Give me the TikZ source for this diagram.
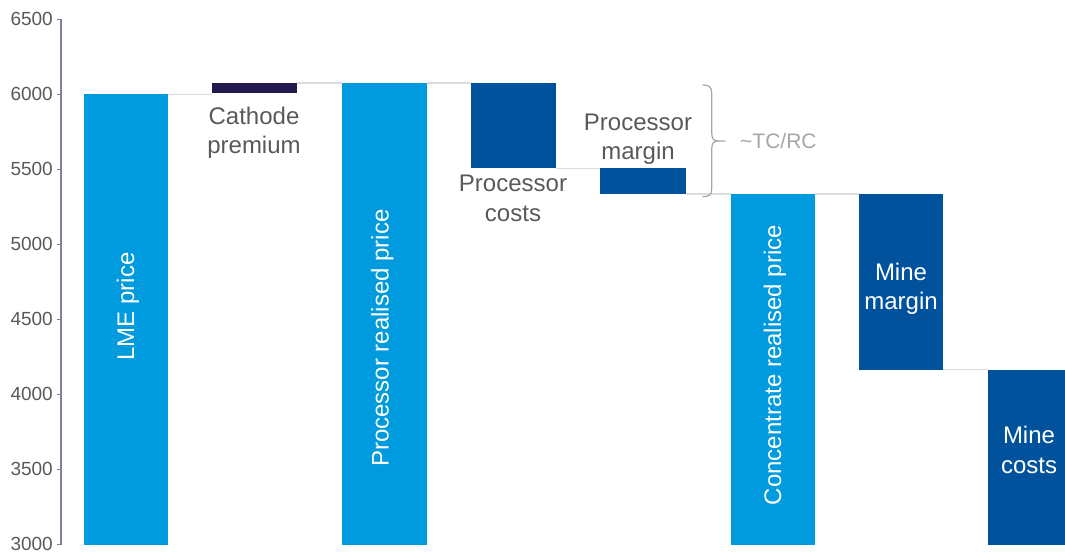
\documentclass[tikz,border=0pt]{standalone}
\usepackage{fontspec}
\setmainfont{Liberation Sans}
\usetikzlibrary{fit}

\definecolor{lightblue}{HTML}{009ADE}
\definecolor{darkblue}{HTML}{00529C}
\definecolor{navy}{HTML}{211A4C}
\definecolor{textgray}{HTML}{595959}
\definecolor{linegray}{HTML}{DCDCDC}
\definecolor{bracegray}{HTML}{A6A6A6}
\definecolor{axiscol}{HTML}{857EA0}

\tikzset{
  bar/.style={inner sep=0pt, outer sep=0pt, draw=none},
  conn/.style={draw=linegray, line width=1.4pt},
  inlabel/.style={text=white, inner sep=0pt, font=\fontsize{24}{29.5}\selectfont, align=center},
  outlabel/.style={text=textgray, inner sep=0pt, font=\fontsize{24}{29.5}\selectfont, align=center},
  ticklabel/.style={text=textgray, inner sep=0pt, font=\fontsize{19}{22}\selectfont},
}

\begin{document}
\begin{tikzpicture}[x=1pt, y=-1pt]
\useasboundingbox (0,0) rectangle (1065,553);

% value axis: 3000 at y=544.5, 0.15 px per unit
\coordinate (axtop) at (61,19.5);
\coordinate (axbot) at (61,544.5);
\draw[axiscol, line width=1.3pt] (axtop) -- (axbot);
\foreach \v in {3000,3500,...,6500} {
  \pgfmathsetmacro{\yy}{544.5-(\v-3000)*0.15}
  \coordinate (tk\v) at (61,\yy);
  \draw[axiscol, line width=1.3pt] (tk\v) -- ++(-4,0);
  \node[ticklabel, anchor=east] (tl\v) at (53,\yy-0.7) {\v};
}

% waterfall bars
\node[bar, fill=lightblue, fit={(84,94.5) (168,544.5)}] (lme) {};
\node[bar, fill=navy, fit={(212,83) (297,93.5)}] (cath) {};
\node[bar, fill=lightblue, fit={(342,83) (427,544.5)}] (prp) {};
\node[bar, fill=darkblue, fit={(471,83) (556,168.5)}] (pcost) {};
\node[bar, fill=darkblue, fit={(600,168.5) (686,194)}] (pmarg) {};
\node[bar, fill=lightblue, fit={(731,194) (815,544.5)}] (crp) {};
\node[bar, fill=darkblue, fit={(859,194) (943,369.5)}] (mmarg) {};
\node[bar, fill=darkblue, fit={(988,369.5) (1065,544.5)}] (mcost) {};

% step connectors between consecutive bars
\draw[conn] (lme.north east) -- (lme.north east -| cath.west);
\draw[conn] (cath.north east) -- (cath.north east -| prp.west);
\draw[conn] (prp.north east) -- (prp.north east -| pcost.west);
\draw[conn] (pcost.south east) -- (pcost.south east -| pmarg.west);
\draw[conn] (pmarg.south east) -- (pmarg.south east -| crp.west);
\draw[conn] (crp.north east) -- (crp.north east -| mmarg.west);
\draw[conn] (mmarg.south east) -- (mmarg.south east -| mcost.west);

% labels inside the bars
\node[inlabel, rotate=90, anchor=base] (lmelab) at (134,306.5) {LME price};
\node[inlabel, rotate=90, anchor=base] (prplab) at (388.7,338) {Processor realised price};
\node[inlabel, rotate=90, anchor=base] (crplab) at (781,365) {Concentrate realised price};
\node[inlabel, anchor=north] (mmarglab) at (901,262.7) {Mine\\margin};
\node[inlabel, anchor=north] (mcostlab) at (1029,426) {Mine\\costs};

% labels beside the bars
\node[outlabel, anchor=north] (cathlab) at (254,106.7) {Cathode\\premium};
\node[outlabel, anchor=north] (pcostlab) at (513,175) {Processor\\costs};
\node[outlabel, anchor=north] (pmarglab) at (638,113.3) {Processor\\margin};

% brace grouping processor costs and margin
\coordinate (brtop) at (703,85);
\coordinate (brbot) at (703,196.7);
\coordinate (brtip) at (725,141);
\draw[bracegray, line width=1.2pt, line cap=round]
  (brtop) .. controls (709,85) and (711.7,87) .. (711.7,93)
  -- (711.7,132)
  .. controls (711.7,138) and (713,141) .. (718,141) -- (brtip);
\draw[bracegray, line width=1.2pt, line cap=round]
  (brbot) .. controls (709,196.7) and (711.7,194.7) .. (711.7,188.7)
  -- (711.7,150)
  .. controls (711.7,144) and (713,141) .. (718,141);
\node[text=bracegray, inner sep=0pt, anchor=west, font=\fontsize{21}{24}\selectfont] (tcrc) at (740,141) {\textasciitilde TC/RC};
\end{tikzpicture}
\end{document}
